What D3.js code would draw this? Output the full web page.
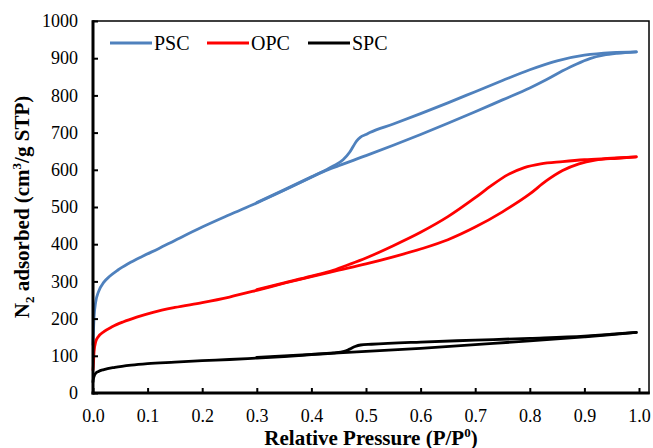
<!DOCTYPE html>
<html>
<head>
<meta charset="utf-8">
<script src="https://cdn.jsdelivr.net/npm/d3@7"></script>
<style>
  body { margin: 0; background: #fff; }
  text { font-family: "Liberation Serif", "Times New Roman", serif; }
</style>
</head>
<body>
<div id="chart"></div>
<script>
const width = 653;
const height = 448;

// [P/P0, adsorbed volume]
const pscAds = [[0,130],[0.0005,152],[0.002,205],[0.005,245],[0.01,272],[0.02,298],[0.03,313],[0.045,330],[0.065,348],[0.09,367],[0.12,388],[0.15,410],[0.2,446],[0.25,479],[0.3,511],[0.35,545],[0.4,580],[0.422,595],[0.45,611],[0.5,638],[0.55,666],[0.6,695],[0.65,725],[0.7,756],[0.75,788],[0.8,820],[0.83,842],[0.86,866],[0.885,884],[0.91,899],[0.935,908],[0.96,913],[0.995,917]];
const pscDes = [[0.3,512],[0.35,546],[0.4,581],[0.422,596],[0.44,610],[0.458,627],[0.47,647],[0.477,664],[0.483,678],[0.49,688],[0.5,695],[0.507,700],[0.55,723],[0.6,751],[0.65,780],[0.7,810],[0.75,840],[0.8,869],[0.85,893],[0.9,908],[0.95,915],[0.995,917]];
const opcAds = [[0,62],[0.0005,70],[0.002,112],[0.005,138],[0.01,152],[0.02,165],[0.035,178],[0.055,191],[0.08,204],[0.11,217],[0.15,230],[0.2,243],[0.25,258],[0.3,276],[0.35,295],[0.4,313],[0.45,330],[0.5,347],[0.55,366],[0.6,387],[0.65,412],[0.7,446],[0.75,487],[0.8,535],[0.83,570],[0.86,598],[0.89,616],[0.92,626],[0.96,631],[0.995,635]];
const opcDes = [[0.3,278],[0.35,296],[0.4,314],[0.44,330],[0.47,346],[0.5,363],[0.55,396],[0.6,432],[0.65,474],[0.7,525],[0.73,558],[0.76,587],[0.79,606],[0.82,616],[0.86,622],[0.9,627],[0.95,631],[0.995,635]];
const spcAds = [[0,30],[0.0005,36],[0.002,45],[0.005,53],[0.01,58],[0.02,63],[0.04,69],[0.07,75],[0.1,79],[0.15,83],[0.2,87],[0.25,90],[0.3,94],[0.35,98],[0.4,103],[0.45,108],[0.5,112],[0.6,120],[0.7,130],[0.8,140],[0.9,151],[0.95,157],[0.995,163]];
const spcDes = [[0.3,96],[0.35,100],[0.4,104],[0.44,108],[0.46,112],[0.47,118],[0.48,125],[0.49,129],[0.51,131],[0.6,137],[0.7,142],[0.8,147],[0.9,153],[0.95,158],[0.995,163]];

const seriesNames = ["PSC", "OPC", "SPC"];
const seriesColors = ["#4f81bd", "#ff0000", "#000000"];
const branches = [[pscAds, pscDes], [opcAds, opcDes], [spcAds, spcDes]];

const xTicks = [0, 0.1, 0.2, 0.3, 0.4, 0.5, 0.6, 0.7, 0.8, 0.9, 1.0];
const yTicks = [0, 100, 200, 300, 400, 500, 600, 700, 800, 900, 1000];

const plotLeft = 93, plotRight = 649, plotTop = 21, plotBottom = 393;

const svg = d3.select("#chart")
  .append("svg")
  .attr("width", width)
  .attr("height", height);

const xScale = d3.scaleLinear().domain([0, 1]).range([plotLeft, 639]);
const yScale = d3.scaleLinear().domain([0, 1000]).range([plotBottom, plotTop]);

/* frame */
svg.append("rect")
  .attr("x", plotLeft).attr("y", plotTop)
  .attr("width", plotRight - plotLeft).attr("height", plotBottom - plotTop)
  .attr("fill", "none").attr("stroke", "#000").attr("stroke-width", 1.5);

/* curves */
const line = d3.line()
  .x(d => xScale(d[0]))
  .y(d => yScale(d[1]))
  .curve(d3.curveMonotoneX);

branches.forEach((pair, i) => {
  pair.forEach(b => {
    svg.append("path")
      .attr("d", line(b))
      .attr("fill", "none")
      .attr("stroke", seriesColors[i])
      .attr("stroke-width", 2.8)
      .attr("stroke-linecap", "round")
      .attr("stroke-linejoin", "round");
  });
});

/* axes, ticks inside */
const xAxis = d3.axisBottom(xScale)
  .tickValues(xTicks)
  .tickFormat(d3.format(".1f"))
  .tickSizeInner(-5).tickSizeOuter(0).tickPadding(16);
const yAxis = d3.axisLeft(yScale)
  .tickValues(yTicks)
  .tickFormat(d3.format("d"))
  .tickSizeInner(-5).tickSizeOuter(0).tickPadding(15);

const gx = svg.append("g")
  .attr("transform", "translate(0," + plotBottom + ")")
  .call(xAxis);
const gy = svg.append("g")
  .attr("transform", "translate(" + plotLeft + ",0)")
  .call(yAxis);

[gx, gy].forEach(g => {
  g.select(".domain").remove();
  g.selectAll(".tick line").attr("stroke", "#000").attr("stroke-width", 2);
  g.selectAll(".tick text")
    .attr("fill", "#000")
    .style("font-family", "'Liberation Serif', serif")
    .style("font-size", "18px");
});

svg.append("line")
  .attr("x1", plotLeft).attr("x2", plotLeft).attr("y1", plotTop - 0.75).attr("y2", plotBottom + 1.5)
  .attr("stroke", "#000").attr("stroke-width", 3);
svg.append("line")
  .attr("x1", plotLeft - 1.5).attr("x2", plotRight + 0.75).attr("y1", plotBottom).attr("y2", plotBottom)
  .attr("stroke", "#000").attr("stroke-width", 3);

/* axis titles */
const xt = svg.append("text")
  .attr("x", 371).attr("y", 445)
  .attr("text-anchor", "middle")
  .style("font-size", "21px").style("font-weight", "bold");
xt.append("tspan").text("Relative Pressure (P/P");
xt.append("tspan").attr("dy", -8).style("font-size", "13px").text("0");
xt.append("tspan").attr("dy", 8).text(")");

const yt = svg.append("text")
  .attr("transform", "translate(29,207) rotate(-90)")
  .attr("text-anchor", "middle")
  .style("font-size", "21px").style("font-weight", "bold");
yt.append("tspan").text("N");
yt.append("tspan").attr("dy", 5).style("font-size", "13px").text("2");
yt.append("tspan").attr("dy", -5).text(" adsorbed (cm");
yt.append("tspan").attr("dy", -8).style("font-size", "13px").text("3");
yt.append("tspan").attr("dy", 8).text("/g STP)");

/* legend */
const legendX = [110, 207, 308];
seriesNames.forEach((name, i) => {
  svg.append("line")
    .attr("x1", legendX[i]).attr("x2", legendX[i] + 42)
    .attr("y1", 43).attr("y2", 43)
    .attr("stroke", seriesColors[i]).attr("stroke-width", 2.8);
  svg.append("text")
    .attr("x", legendX[i] + 44).attr("y", 50)
    .style("font-size", "20px")
    .text(name);
});
</script>
</body>
</html>
